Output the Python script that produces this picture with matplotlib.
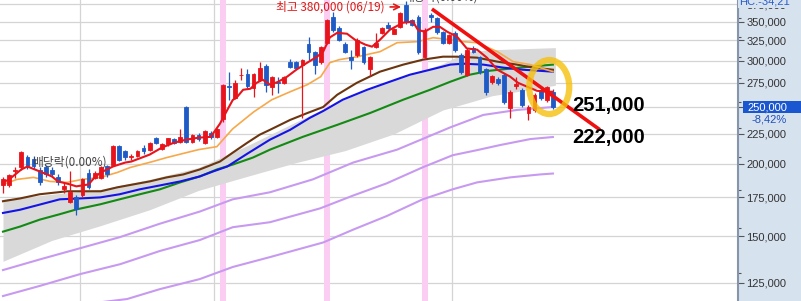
import numpy as np
import matplotlib
matplotlib.use('Agg')
import matplotlib.pyplot as plt
from matplotlib.ticker import FixedLocator, FixedFormatter, NullFormatter
from matplotlib.patches import Ellipse, Rectangle
from matplotlib.transforms import IdentityTransform

plt.rcParams['font.family'] = ['Liberation Sans', 'DejaVu Sans']

# ---------------- data (KRW) ----------------
opens = [184, 184, 194, 197, 205, 204, 195, 197, 195, 190, 181, 172, 175, 177, 193, 189, 189, 198, 199, 214,
         210, 205, 206, 213, 211, 221, 212, 216, 220, 218, 250, 218, 224, 217, 226, 222, 238, 272, 259, 283.5,
         285, 269, 278, 294, 270, 276, 275, 299, 298, 295.5, 320, 311, 298, 322, 357, 342, 320, 304, 307, 317,
         290, 317, 335, 346, 334, 343, 374, 352, 357, 304, 360, 355, 336, 322, 335, 307, 284, 316, 304, 290,
         276, 279, 284, 249, 272, 267.6, 244, 247, 267.6, 257, 265.5]
highs = [190, 192, 197, 210, 207, 206, 197, 199, 197, 192, 185, 194, 177, 189, 196, 194, 198, 199, 215, 215,
         211, 208, 211, 215, 218, 222, 217, 221, 221, 229, 251, 225, 226, 228, 227, 230, 274, 287, 278, 292,
         290, 286, 298, 296, 282, 281, 282, 302, 300, 302, 330, 312, 318, 354, 363, 344, 323, 313, 328, 318,
         306, 335, 343, 350, 341, 364, 380, 354, 360, 341, 362, 357, 338, 334, 337, 309, 315, 318, 306, 292,
         284, 281, 286, 267, 281, 269, 252, 264, 270, 272, 268]
lows = [178, 182, 189, 195, 196, 196, 184, 190, 190, 184, 178, 171, 163, 175, 181, 188, 188, 190, 198, 202,
        203, 203, 205, 208, 210, 216, 211, 214, 216, 217, 217, 217, 219, 216, 220, 221, 236, 257, 258, 278,
        269, 260, 277, 265.5, 262, 264.5, 274, 292, 290, 239.5, 301, 285, 296, 320, 336, 324, 309, 290, 305, 296,
        282, 316, 334, 340, 333, 342, 347, 344, 308, 302, 350, 334, 320, 321, 311, 285, 282, 309, 285, 262,
        274, 273, 253, 239.5, 268, 250, 237.6, 245, 257, 255, 248]
closes = [188, 191, 195, 209, 198, 198, 186, 192, 192, 186, 183, 179, 167, 188, 182, 193, 197, 192, 214, 203,
          205, 206, 210, 210, 217, 217, 216, 221, 217, 222, 218, 224, 220, 227, 222, 229, 273, 270, 275, 284,
          272, 285, 292, 273, 281, 275, 281, 293, 292, 301, 311, 295.5, 317, 352, 339, 326, 311, 301, 326, 298,
          305, 322, 342, 341, 340, 362.6, 349, 346, 310, 339, 357, 336, 322, 332, 313, 287, 313, 311, 287, 265.5,
          282, 275, 255, 265.5, 274, 252, 250, 262.4, 259, 271, 250]
opens = np.array(opens) * 1000
highs = np.array(highs) * 1000
lows = np.array(lows) * 1000
closes = np.array(closes) * 1000

ma5_x = [0, 1, 3, 4, 6, 8, 9, 11, 12, 14, 15, 16, 18, 20, 21, 24, 26, 28, 30, 32, 34, 35.5, 36.7, 37.6, 38.3,
         39.3, 40.5, 41.5, 42.5, 43.7, 45, 46.5, 48, 49.8, 51.4, 52.4, 53.5, 54.7, 56.3, 57.6, 59.3, 60.4, 61.7,
         63.3, 65.5, 67.1, 67.9, 69, 70.4, 71.5, 72.7, 74.3, 75.9, 77.6, 79.2, 80.9, 83, 84.3, 85.8, 87.4, 89, 90]
ma5_y = [185.7, 187.9, 195.4, 197.7, 193.9, 190.1, 186.4, 184.2, 182.8, 184.2, 189.4, 193.1, 197.7, 200.8,
         201.6, 207.2, 213, 217.2, 219.8, 221.5, 222.3, 234, 247, 257, 260, 267.6, 268.7, 275, 278.4, 273, 276,
         281.8, 289.6, 297.8, 304.9, 311, 329, 335, 333.8, 326, 319.7, 317.2, 326, 339, 348.7, 350, 339, 336.4,
         343, 343, 336.4, 330, 315, 313.4, 303.7, 289.6, 281.8, 275, 270.8, 266.5, 265.5, 265.5]

ma20_x = [0, 2.3, 5, 7.7, 10.5, 13, 16, 18.7, 20.8, 24.5, 26.8, 30, 32, 35, 37.6, 41, 44, 47, 49.8, 52, 53.5,
          55, 58, 61.7, 64.5, 67.8, 70.4, 73.2, 75.3, 77.6, 80.9, 83.5, 86.3, 90]
ma20_y = [184.2, 187.9, 189.4, 186.4, 185.7, 187.9, 189.4, 193.1, 196.9, 201.6, 204.8, 208.8, 211.3, 213.8,
          229.4, 245.1, 257.3, 265.5, 273, 281.8, 297.8, 301.3, 304.9, 311, 322.2, 323.5, 328.6, 326, 323.5,
          322.2, 311, 299, 295.5, 287.4]

ma60_x = [0, 2.8, 6, 10.5, 16, 18.7, 21.3, 24, 26.8, 29.5, 32.2, 35.5, 37.6, 40, 42, 43.7, 47, 49.8, 52.4,
          54.7, 57.9, 61.7, 65.5, 68.7, 72, 74.3, 77.6, 80.9, 84.1, 86.7, 90]
ma60_y = [172.4, 174.3, 177.2, 179.3, 179.3, 182.1, 184.2, 186.4, 189.4, 191.6, 195.4, 201.6, 208.8, 217.2,
          224.1, 228.5, 237.6, 244.1, 250, 262.4, 275, 287.4, 295.5, 301.3, 304.9, 304.9, 303.7, 299, 295.5,
          292.1, 289.6]

ma120_x = [0, 2.8, 6, 9.3, 12.6, 15.9, 19.1, 22.4, 25.7, 29, 32.2, 34.4, 36.7, 40, 43.7, 47, 50.2, 52.4,
           55.6, 59.6, 63.3, 66.6, 69.9, 73.2, 75.3, 78.6, 81.8, 85.1, 90]
ma120_y = [164.6, 166.7, 170.1, 173.7, 174.3, 175, 177.2, 180.7, 183.5, 186.4, 190.1, 193.9, 197.7, 208.0,
           219.8, 228.5, 239.5, 246.1, 257.3, 267.6, 276.2, 284, 289.6, 295.5, 296.6, 295.5, 292.1, 289.6, 287.4]

ma240_x = [0, 2.8, 6, 9.3, 12.1, 15.9, 19.1, 22.4, 25.7, 29, 32.2, 35, 37.6, 40.9, 43.7, 49.1, 54.7, 60.1,
           65.5, 69.9, 73.2, 76.4, 79.7, 83, 86.3, 90]
ma240_y = [152.9, 156, 160.3, 163.8, 167, 170.3, 173.7, 177.2, 180.7, 185.7, 190.1, 195.4, 199.2, 204.8, 211.3,
           222.3, 233, 244.2, 257.3, 267.6, 276.2, 284, 288.5, 290.9, 293.2, 295.5]

band_x = [0, 8, 16, 24, 32, 40, 48, 56, 64, 72, 76, 80, 90.4]
band_upper = [173.7, 177.2, 180.7, 187.9, 196.9, 214.7, 235.8, 258.2, 278.4, 296.6, 311, 313.4, 316]
band_lower = [136.0, 147.7, 156.6, 166.7, 179.9, 190.2, 200.8, 210.5, 224.9, 247.1, 254, 261.3, 272.4]

env1_x = [0, 6.1, 12.6, 19.2, 25.7, 32.2, 37.6, 43.7, 50.7, 57.3, 64.5, 73.2, 78.6, 84.1, 90]
env1_y = [131.4, 137.1, 143.2, 149.7, 157.8, 165.5, 173.7, 178.6, 187.9, 200.8, 211.3, 230.7, 242.3, 247.1, 250]
env2_x = [0, 6.1, 12.6, 19.2, 25.7, 32.2, 37.6, 43.7, 51.9, 57.3, 62.8, 68.7, 73.6, 77.6, 81.3, 86.3, 90]
env2_y = [118.6, 123.5, 129.3, 134.5, 141.7, 147.9, 155.6, 158.7, 167.6, 176.3, 185, 197.1, 206.7, 210.9,
          215.1, 220.3, 222.1]
env3_x = [15.9, 20.3, 25.7, 32.2, 37.6, 43.7, 52.4, 57.3, 62.8, 68.7, 73.6, 77.6, 83, 87.9, 90]
env3_y = [115.7, 117.2, 121.9, 126.8, 133, 138.3, 146.5, 154.1, 162.6, 173.7, 180.7, 185.7, 189.4, 191.6, 192.3]

event_days = [36, 53, 69]
month_lines = [12.6, 34.5, 73.5]
trend_x = [70.2, 97.7]
trend_y = [368000, 228500]
target_labels = ['251,000', '222,000']
target_values = [251000, 222000]
major_ticks = [125000, 150000, 175000, 200000, 225000, 250000, 275000, 300000, 325000, 350000, 375000]
peak_label = '최고 380,000 (06/19)'
div_label = '배당락(0.00%)'

# ---------------- figure ----------------
W, H = 801, 301
PANEL = '#d7e2ef'
RED = '#e8141c'
BLUE = '#1f5bc6'
fig = plt.figure(figsize=(W / 100, H / 100), dpi=100, facecolor=PANEL)
ax = fig.add_axes([0, 0, 738 / W, 1])
ax.set_facecolor('white')
ax.set_yscale('log')
ax.set_xlim(-0.49, 120.29)
ax.set_ylim(116300, 381300)

ax.yaxis.set_major_locator(FixedLocator(major_ticks))
ax.yaxis.set_major_formatter(FixedFormatter([f"{v:,}" for v in major_ticks]))
ax.yaxis.set_minor_locator(FixedLocator([v + 5000 for v in major_ticks]))
ax.yaxis.set_minor_formatter(NullFormatter())
ax.yaxis.tick_right()
ax.tick_params(axis='y', which='major', direction='out', length=4.5, width=0.8, color='#555555',
               pad=1.5, labelsize=8, labelcolor='#333333')
ax.tick_params(axis='y', which='minor', direction='out', length=2.2, width=0.8, color='#555555')
ax.set_xticks([])
for s in ['top', 'left', 'bottom']:
    ax.spines[s].set_visible(False)
ax.spines['right'].set_color('#8795aa')
ax.spines['right'].set_linewidth(1.5)

for v in major_ticks:
    ax.axhline(v, color='#d4d4d4', lw=0.9, zorder=1)
for v in month_lines:
    ax.axvline(v, color='#d4d4d4', lw=0.9, zorder=1)
for d in event_days:
    ax.axvspan(d - 0.5, d + 0.5, color='#fbcdf3', lw=0, zorder=1.5)

k = 1000
ax.fill_between(band_x, np.array(band_lower) * k, np.array(band_upper) * k, color='#d9d9d9', lw=0, zorder=2)
for ex, ey in [(env1_x, env1_y), (env2_x, env2_y), (env3_x, env3_y)]:
    ax.plot(ex, np.array(ey) * k, color='#c79af0', lw=1.5, zorder=3)

ax.plot(ma240_x, np.array(ma240_y) * k, color='#138a13', lw=1.5, zorder=4)
ax.plot(ma120_x, np.array(ma120_y) * k, color='#1414e6', lw=1.5, zorder=4)
ax.plot(ma60_x, np.array(ma60_y) * k, color='#6b3510', lw=1.5, zorder=4)
ax.plot(ma20_x, np.array(ma20_y) * k, color='#f7a84a', lw=1.2, zorder=4)

x = np.arange(len(opens))
up = closes >= opens
cols = np.where(up, RED, BLUE)
ax.vlines(x, lows, highs, colors=cols, lw=0.9, zorder=5)
ax.bar(x, np.abs(closes - opens), bottom=np.minimum(opens, closes), width=0.62, color=cols,
       edgecolor=cols, lw=0.6, zorder=5.1)

ax.plot(ma5_x, np.array(ma5_y) * k, color=RED, lw=1.5, zorder=6)
ax.plot(trend_x, trend_y, color='#f01010', lw=2.6, zorder=7, solid_capstyle='butt')

# highlight ring
fig.canvas.draw()
cx, cy = ax.transData.transform((89.4, 270500))
ring = Ellipse((cx, cy), width=40, height=54, transform=IdentityTransform(), fill=False,
               edgecolor='#f5c10e', lw=4.5, alpha=0.8, zorder=8)
ax.add_patch(ring)

kfont = ['Noto Sans CJK KR', 'DejaVu Sans']
ax.text(62.5, 371000, peak_label, ha='right', va='center', color='#e01818', fontsize=8.5, family=kfont, zorder=9)
ax.annotate('', xy=(65.6, 371000), xytext=(62.9, 371000),
            arrowprops=dict(arrowstyle='->', color='#e01818', lw=1.2), zorder=9)
ax.text(4.75, 201200, div_label, ha='left', va='center', color='#444444', fontsize=8.5, family=kfont, zorder=9)
ax.text(65.5, 386000, div_label, ha='left', va='center', color='#444444', fontsize=8.5, family=kfont, zorder=9)

for lab, val in zip(target_labels, target_values):
    ax.text(93.1, val, lab, ha='left', va='center', color='black', fontsize=14.5, fontweight='bold',
            family='Liberation Sans', zorder=9)

# right panel labels
fx = lambda px: px / W
fy = lambda py: 1 - py / H
fig.patches.append(Rectangle((fx(743), fy(113)), 58 / W, 12 / H, transform=fig.transFigure,
                             facecolor='#1a56d0', edgecolor='none', zorder=5))
fig.text(fx(747), fy(107), '250,000', color='white', fontsize=8, ha='left', va='center', zorder=6)
fig.text(fx(752), fy(119), '-8,42%', color='#1f4fbf', fontsize=8, ha='left', va='center', zorder=6)
fig.text(fx(739), fy(2), 'HC:-34,21', color='#2a5cc8', fontsize=8, ha='left', va='center', zorder=6,
         bbox=dict(facecolor=PANEL, edgecolor='none', pad=0.5))

fig.savefig('out.png', dpi=100, facecolor=fig.get_facecolor())
